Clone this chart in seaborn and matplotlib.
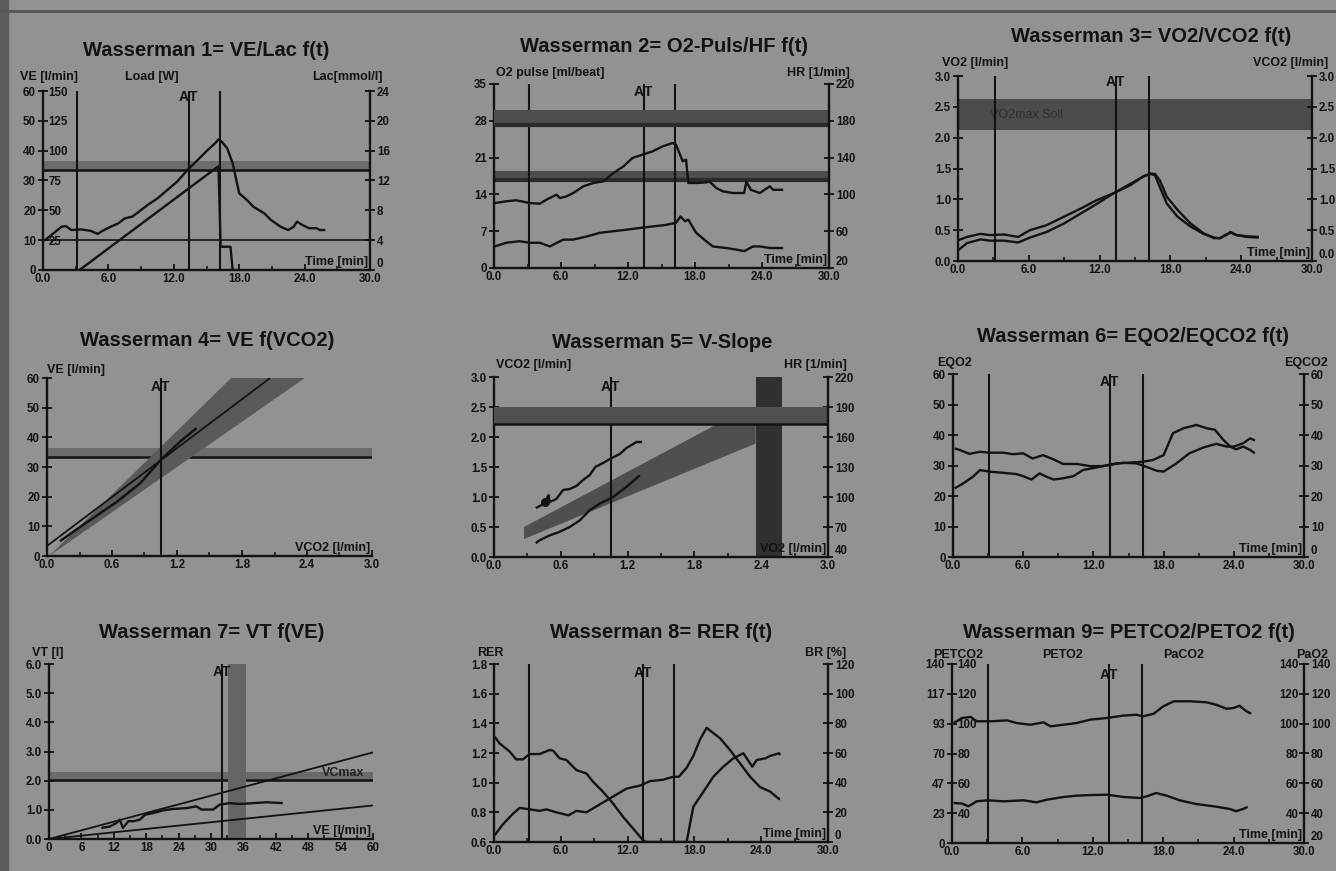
import matplotlib
matplotlib.use("Agg")
import matplotlib.pyplot as plt
import seaborn as sns
from matplotlib.patches import Rectangle
from matplotlib.lines import Line2D
import numpy as np

# --- canvas ---
W, H = 1336, 871
BG = "#929292"
INK = "#121212"
TICK_FS = 8.3
LAB_FS = 9
TITLE_FS = 14.5
CURVE_LW = 1.7

# --- phase markers (start load, AT, end load) in minutes ---
phase_lines = [3.1, 13.4, 16.2]

# --- Wasserman 1: VE / Load / Lac vs time ---
w1_time = [0.1, 0.76, 1.7, 2.1, 2.6, 3.5, 4.4, 5.0, 5.6, 6.2, 6.9, 7.5, 8.2, 9.0, 9.6, 10.5,
           11.4, 12.3, 13.25, 14.2, 15.1, 15.8, 16.1, 16.4, 16.9, 17.4, 18.0, 18.7, 19.3,
           20.3, 20.9, 21.8, 22.5, 23.0, 23.3, 23.8, 24.4, 25.1, 25.4, 25.9]
w1_ve = [9.8, 11.7, 14.5, 14.7, 13.4, 13.6, 13.1, 12.1, 13.4, 14.5, 15.6, 17.3, 17.9, 20.1,
         21.8, 24.0, 26.8, 29.6, 33.5, 36.9, 40.2, 42.5, 43.8, 43.0, 40.8, 35.8, 25.7, 23.5,
         21.2, 19.0, 16.8, 14.5, 13.4, 14.5, 16.2, 15.1, 14.0, 14.0, 13.4, 13.4]
w1_load_time = [3.35, 16.1, 16.3, 17.2, 17.4]
w1_load_watt = [0, 87, 19.5, 19.5, 0]
w1_lac_threshold = 4.0
ve_target_band = [33.5, 36.5]

# --- Wasserman 2: O2 pulse / HR vs time ---
w2_hr_time = [0.06, 1.1, 2.0, 3.2, 4.1, 4.7, 5.6, 5.9, 6.5, 7.1, 8.0, 8.9, 9.8, 10.7, 11.6,
              12.4, 13.3, 14.2, 15.1, 16.0, 16.3, 16.6, 16.9, 17.2, 17.4, 18.1, 19.0, 19.3,
              19.9, 20.5, 21.4, 22.4, 22.6, 23.0, 23.8, 24.7, 25.0, 25.9]
w2_hr = [90.6, 92.5, 93.6, 90.6, 89.9, 94.3, 99.7, 96, 97.9, 101.5, 108.8, 112.4, 114.2, 123.3,
         130.5, 139.6, 143.2, 146.8, 152.2, 155.9, 154, 145, 136, 137.8, 112.4, 112.4, 113,
         114, 107, 103.3, 101.5, 101.5, 114, 105, 101.5, 108.8, 105, 105]
w2_o2_time = [0.06, 1.1, 2.3, 3.2, 4.1, 5.0, 6.2, 7.1, 8.3, 9.5, 10.7, 11.9, 13.0, 14.2, 15.4,
              16.3, 16.7, 17.1, 17.4, 18.1, 19.0, 19.6, 20.8, 21.7, 22.4, 23.2, 23.8, 24.7, 25.9]
w2_o2pulse = [4.1, 4.8, 5.1, 4.8, 4.8, 4.1, 5.4, 5.4, 6.0, 6.7, 7.0, 7.3, 7.6, 7.9, 8.2, 8.6,
              9.8, 8.9, 9.2, 6.7, 5.1, 4.1, 3.8, 3.5, 3.2, 4.1, 4.1, 3.8, 3.8]
w2_hr_band = [174, 192]
w2_o2_band = [16.5, 18.4]

# --- Wasserman 3: VO2 / VCO2 vs time ---
w3_time = [0.06, 0.76, 1.9, 2.7, 3.9, 5.1, 6.1, 7.5, 9.0, 10.4, 11.8, 13.2, 14.6, 15.7, 16.3,
           16.7, 17.1, 17.7, 18.6, 19.7, 20.8, 21.7, 22.2, 23.1, 23.6, 24.5, 25.5]
w3_vco2 = [0.34, 0.39, 0.44, 0.42, 0.43, 0.39, 0.50, 0.58, 0.72, 0.85, 0.99, 1.10, 1.23, 1.37,
           1.41, 1.39, 1.20, 0.93, 0.72, 0.56, 0.44, 0.38, 0.37, 0.47, 0.42, 0.40, 0.39]
w3_vo2 = [0.18, 0.29, 0.35, 0.33, 0.33, 0.30, 0.38, 0.47, 0.61, 0.77, 0.93, 1.10, 1.25, 1.37,
          1.42, 1.41, 1.31, 1.04, 0.83, 0.61, 0.45, 0.37, 0.37, 0.46, 0.42, 0.39, 0.38]
vo2max_band = [2.13, 2.62]

# --- Wasserman 4: VE vs VCO2 ---
w4_vco2 = [0.12, 0.31, 0.49, 0.65, 0.86, 1.05, 1.23, 1.38]
w4_ve = [5.0, 9.9, 14.4, 18.4, 24.5, 32.4, 38.6, 43.1]
w4_fit_vco2 = [0.0, 2.06]
w4_fit_ve = [3.4, 60.0]
w4_wedge_vco2 = [0.02, 1.70, 2.38]
w4_wedge_ve = [0.0, 60.0, 60.0]

# --- Wasserman 5: V-slope ---
w5_hr_vo2 = [0.375, 0.43, 0.46, 0.49, 0.50, 0.56, 0.62, 0.68, 0.74, 0.80, 0.86, 0.91, 0.98,
             1.04, 1.13, 1.19, 1.28, 1.33]
w5_hr = [89, 92, 95, 102, 95, 98, 107, 108, 111, 117, 122, 130, 134, 138, 143, 149, 155, 155]
w5_vo2 = [0.375, 0.41, 0.50, 0.59, 0.68, 0.77, 0.86, 0.95, 1.07, 1.19, 1.31]
w5_vco2 = [0.23, 0.28, 0.36, 0.42, 0.50, 0.61, 0.78, 0.89, 1.00, 1.17, 1.36]
w5_band_vo2 = [0.27, 0.27, 2.00, 2.35, 2.35]
w5_band_vco2 = [0.30, 0.50, 2.21, 2.21, 1.89]
w5_hr_band = [173, 190]
w5_vo2max_band = [2.35, 2.59]
at_vo2 = 1.05

# --- Wasserman 6: EQO2 / EQCO2 vs time ---
w6_eqo2_time = [0.14, 0.57, 1.4, 2.3, 3.1, 4.3, 5.1, 6.0, 6.8, 7.7, 8.6, 9.4, 10.6, 11.7, 12.8,
                14.0, 15.1, 16.3, 17.1, 18.0, 18.8, 19.7, 20.8, 21.7, 22.4, 23.1, 23.7, 24.2,
                24.8, 25.4, 25.8]
w6_eqo2 = [35.6, 35.1, 33.8, 34.5, 34.2, 34.2, 33.7, 34.0, 32.3, 33.4, 32.0, 30.5, 30.5, 29.8,
           29.8, 30.7, 30.9, 31.3, 31.8, 33.4, 40.6, 42.2, 43.3, 42.2, 41.7, 38.4, 36.2, 35.3,
           36.2, 35.1, 34.0]
w6_eqco2_time = [0.14, 0.86, 1.7, 2.3, 3.1, 4.3, 5.4, 6.0, 6.7, 7.4, 8.0, 8.6, 9.4, 10.3, 11.1,
                 12.3, 13.4, 14.5, 15.7, 16.5, 17.4, 18.0, 19.1, 20.2, 21.4, 22.5, 23.4, 24.0,
                 24.8, 25.4, 25.8]
w6_eqco2 = [22.5, 24.1, 26.3, 28.5, 28.0, 27.6, 27.2, 26.5, 25.4, 27.4, 26.3, 25.4, 25.8, 26.5,
            28.5, 29.4, 30.2, 30.9, 30.7, 29.6, 28.3, 28.0, 30.7, 34.0, 35.9, 37.1, 36.2, 36.2,
            37.3, 38.9, 38.2]

# --- Wasserman 7: VT vs VE ---
w7_ve = [9.7, 11.3, 12.5, 13.1, 13.7, 14.7, 15.6, 16.8, 17.8, 19.3, 21.1, 23.0, 25.5, 27.3,
         28.2, 30.4, 31.6, 33.5, 35.3, 37.8, 40.3, 43.3]
w7_vt = [0.38, 0.43, 0.55, 0.66, 0.38, 0.61, 0.61, 0.66, 0.83, 0.89, 0.98, 1.03, 1.06, 1.12,
         1.01, 1.01, 1.18, 1.23, 1.20, 1.23, 1.26, 1.23]
w7_iso_ve = [0, 60]
w7_iso_upper = [0, 2.97]
w7_iso_lower = [0, 1.15]
vcmax_band = [2.03, 2.30]
w7_ve_band = [33.2, 36.4]
at_ve = 32.1

# --- Wasserman 8: RER / BR vs time ---
w8_rer_time = [0.06, 0.8, 1.7, 2.3, 3.2, 4.1, 4.7, 5.6, 6.7, 7.4, 8.3, 9.2, 10.1, 11.0, 11.9,
               13.1, 14.0, 15.2, 16.1, 16.6, 17.3, 17.9, 18.5, 19.1, 19.6, 20.3, 21.2, 22.1,
               23.0, 23.9, 24.8, 25.6, 25.7]
w8_rer = [0.645, 0.72, 0.79, 0.83, 0.82, 0.81, 0.82, 0.80, 0.78, 0.81, 0.80, 0.84, 0.88, 0.92,
          0.96, 0.98, 1.01, 1.02, 1.04, 1.04, 1.10, 1.18, 1.29, 1.37, 1.34, 1.30, 1.22, 1.13,
          1.04, 0.97, 0.94, 0.89, 0.89]
w8_br_time = [0.06, 0.5, 1.4, 2.0, 2.6, 3.2, 4.1, 5.0, 5.3, 5.9, 6.5, 7.4, 8.3, 8.9, 9.8, 10.7,
              11.6, 12.5, 13.4, 13.7, 17.3, 17.9, 18.8, 19.7, 20.6, 21.5, 22.4, 23.2, 23.6,
              24.4, 24.8, 25.6, 25.7]
w8_br = [71, 66.5, 61, 55.7, 55.7, 59.3, 59.3, 62, 61.6, 56.4, 55.3, 48.5, 46.2, 40.6, 33.8,
         25.9, 16.9, 9.0, 1.1, 0, 0, 23.7, 33.8, 44, 50.8, 56.4, 59.8, 50.8, 55.3, 56.4, 58,
         59.8, 58.6]

# --- Wasserman 9: PETCO2 / PETO2 vs time ---
w9_peto2_time = [0.14, 0.85, 1.6, 2.1, 3.3, 4.7, 5.5, 6.7, 7.8, 8.4, 9.5, 10.6, 11.8, 13.2,
                 14.6, 15.7, 16.3, 17.2, 18.0, 18.9, 20.3, 21.7, 22.5, 23.4, 24.0, 24.5, 25.1,
                 25.5]
w9_peto2 = [100.4, 103.8, 104.5, 101.6, 101.6, 102.2, 100.4, 99.3, 100.9, 98.2, 99.3, 100.4,
            102.7, 103.8, 105.4, 106.0, 104.9, 106.7, 111.6, 115.0, 115.0, 114.3, 112.7, 110.0,
            110.5, 112.0, 108.3, 106.7]
w9_petco2_time = [0.14, 0.85, 1.4, 2.1, 3.0, 4.4, 6.1, 7.2, 8.1, 9.5, 10.6, 11.8, 13.2, 14.6,
                  16.0, 16.6, 17.4, 18.3, 19.4, 20.8, 22.3, 23.7, 24.2, 24.8, 25.2]
w9_petco2 = [31.3, 30.8, 28.7, 32.6, 33.4, 32.6, 33.4, 31.8, 33.9, 36.0, 37.0, 37.5, 37.8,
             36.0, 35.2, 36.5, 39.1, 37.0, 33.4, 30.5, 28.7, 26.6, 24.8, 26.6, 28.2]

time_ticks = [0, 6, 12, 18, 24, 30]
time_labels = ["0.0", "6.0", "12.0", "18.0", "24.0", "30.0"]
flow_ticks = [0, 0.6, 1.2, 1.8, 2.4, 3.0]
flow_labels = ["0.0", "0.6", "1.2", "1.8", "2.4", "3.0"]

# --- style ---
sns.set_style("ticks")
plt.rcParams["font.family"] = ["Liberation Sans", "DejaVu Sans"]
plt.rcParams.update({
    "font.weight": "bold",
    "text.color": INK,
    "axes.edgecolor": INK,
    "xtick.color": INK,
    "ytick.color": INK,
    "lines.solid_capstyle": "butt",
})

fig = plt.figure(figsize=(W / 100, H / 100), dpi=100, facecolor=BG)
fig.add_artist(Rectangle((0, 0), 8 / W, 1, transform=fig.transFigure, color="#5c5c5c", zorder=0))
fig.add_artist(Line2D([0, 1], [1 - 11 / H] * 2, transform=fig.transFigure, color="#555555", lw=2))


def ftext(x, y, s, size=LAB_FS, ha="left", **kw):
    fig.text(x / W, 1 - y / H, s, ha=ha, va="center", fontsize=size, color=INK,
             fontweight="bold", **kw)


def fmt(vals, pattern):
    return [pattern.format(v) for v in vals]


def panel(box, xlim, xticks, xlabels, ylim, yticks, ylabels):
    l, t, r, b = box
    ax = fig.add_axes([l / W, 1 - b / H, (r - l) / W, (b - t) / H])
    ax.set_facecolor("none")
    ax.set_xlim(xlim)
    ax.set_ylim(ylim)
    ax.spines[["top", "right"]].set_visible(False)
    ax.spines[["left", "bottom"]].set_linewidth(1.7)
    ax.set_xticks(xticks, xlabels)
    mids = [(a + c) / 2 for a, c in zip(xticks[:-1], xticks[1:])]
    ax.set_xticks(mids, minor=True)
    ax.set_yticks(yticks, ylabels)
    ax.tick_params(axis="x", which="major", direction="in", length=4, width=1.3,
                   pad=2.5, labelsize=TICK_FS)
    ax.tick_params(axis="x", which="minor", direction="in", length=3, width=1.1)
    ax.tick_params(axis="y", which="major", direction="inout", length=7, width=1.3,
                   pad=1.5, labelsize=TICK_FS)
    return ax


def right_axis(ax, ylim, yticks, ylabels):
    tw = ax.twinx()
    tw.set_facecolor("none")
    tw.set_ylim(ylim)
    tw.spines[["top", "bottom", "left"]].set_visible(False)
    tw.spines["right"].set_linewidth(1.7)
    tw.set_yticks(yticks, ylabels)
    tw.tick_params(axis="y", direction="inout", length=7, width=1.3, pad=1.5,
                   labelsize=TICK_FS)
    # lowest label sits just above the time axis, as on the printout
    tw.get_yticklabels()[0].set_verticalalignment("bottom")
    return tw


def inner_axis(ax, ylim, yticks, ylabels, at=0.0, side="right"):
    tw = ax.twinx()
    tw.set_facecolor("none")
    tw.set_ylim(ylim)
    tw.spines[["top", "bottom", "left", "right"]].set_visible(False)
    if side == "left":
        tw.spines["left"].set_position(("axes", at))
        tw.yaxis.tick_left()
    else:
        tw.spines["right"].set_position(("axes", at))
    tw.set_yticks(yticks, ylabels)
    tw.tick_params(axis="y", length=0, pad=4, labelsize=TICK_FS)
    return tw


def curve(ax, x, y, lw=CURVE_LW):
    sns.lineplot(x=x, y=y, ax=ax, color=INK, lw=lw, estimator=None, sort=False)
    ax.set_xlabel("")
    ax.set_ylabel("")


def phase(ax, xs, ypos=0.95):
    for x in xs:
        ax.axvline(x, color=INK, lw=1.5, zorder=3)
    at = xs[1] if len(xs) > 1 else xs[0]
    tr = ax.get_xaxis_transform()
    ax.text(at, ypos, "A", transform=tr, ha="right", va="center", fontsize=10,
            fontweight="bold")
    ax.text(at, ypos, "T", transform=tr, ha="left", va="center", fontsize=10,
            fontweight="bold")


def corner_label(ax, s):
    ax.text(0.995, 0.012, s, transform=ax.transAxes, ha="right", va="bottom",
            fontsize=LAB_FS, fontweight="bold", zorder=6)


def band_h(ax, lo, hi, color, edge=True):
    ax.axhspan(lo, hi, color=color, lw=0, zorder=1)
    if edge:
        ax.axhline(lo, color=INK, lw=1.8, zorder=2)


# ---------------- Wasserman 1 ----------------
ax1 = panel((43, 91, 370, 270), (0, 30), time_ticks, time_labels, (0, 60),
            list(range(0, 61, 10)), fmt(range(0, 61, 10), "{}"))
ld1 = inner_axis(ax1, (0, 150), list(range(25, 151, 25)), fmt(range(25, 151, 25), "{}"))
lac1 = right_axis(ax1, (0, 24), list(range(0, 25, 4)), fmt(range(0, 25, 4), "{}"))
band_h(ax1, ve_target_band[0], ve_target_band[1], "#6c6c6c")
lac1.axhline(w1_lac_threshold, color=INK, lw=1.2)
curve(ax1, w1_time, w1_ve)
curve(ld1, w1_load_time, w1_load_watt)
phase(ax1, phase_lines, 0.965)
corner_label(ax1, "Time [min]")
ftext(206, 51, "Wasserman 1= VE/Lac f(t)", TITLE_FS, "center")
ftext(20, 77, "VE [l/min]")
ftext(125, 77, "Load [W]")
ftext(383, 77, "Lac[mmol/l]", ha="right")

# ---------------- Wasserman 2 ----------------
ax2 = panel((494, 84, 829, 268), (0, 30), time_ticks, time_labels, (0, 35),
            list(range(0, 36, 7)), fmt(range(0, 36, 7), "{}"))
hr2 = right_axis(ax2, (20, 220), list(range(20, 221, 40)), fmt(range(20, 221, 40), "{}"))
hr2.axhspan(w2_hr_band[0], w2_hr_band[1], color="#4e4e4e", lw=0, zorder=1)
hr2.axhline(w2_hr_band[0] + 1.5, color="#2a2a2a", lw=3)
ax2.axhspan(w2_o2_band[0], w2_o2_band[1], color="#4e4e4e", lw=0, zorder=1)
ax2.axhline(w2_o2_band[0] + 0.3, color="#2a2a2a", lw=3)
curve(hr2, w2_hr_time, w2_hr)
curve(ax2, w2_o2_time, w2_o2pulse)
phase(ax2, phase_lines, 0.957)
corner_label(ax2, "Time [min]")
ftext(664, 46, "Wasserman 2= O2-Puls/HF f(t)", TITLE_FS, "center")
ftext(496, 73, "O2 pulse [ml/beat]")
ftext(850, 73, "HR [1/min]", ha="right")

# ---------------- Wasserman 3 ----------------
v_ticks = [0, 0.5, 1.0, 1.5, 2.0, 2.5, 3.0]
ax3 = panel((958, 76, 1312, 261), (0, 30), time_ticks, time_labels, (0, 3),
            v_ticks, fmt(v_ticks, "{:.1f}"))
vc3 = right_axis(ax3, (0, 3), v_ticks, fmt(v_ticks, "{:.1f}"))
ax3.axhspan(vo2max_band[0], vo2max_band[1], color="#4c4c4c", lw=0, zorder=1)
ax3.text(2.7, 2.37, "VO2max Soll", fontsize=9, fontweight="normal", color="#2e2e2e",
         va="center", zorder=2)
curve(ax3, w3_time, w3_vco2)
curve(ax3, w3_time, w3_vo2)
phase(ax3, phase_lines, 0.968)
corner_label(ax3, "Time [min]")
ftext(1151, 37, "Wasserman 3= VO2/VCO2 f(t)", TITLE_FS, "center")
ftext(942, 63, "VO2 [l/min]")
ftext(1328, 63, "VCO2 [l/min]", ha="right")

# ---------------- Wasserman 4 ----------------
ax4 = panel((47, 378, 372, 556), (0, 3), flow_ticks, flow_labels, (0, 60),
            list(range(0, 61, 10)), fmt(range(0, 61, 10), "{}"))
band_h(ax4, ve_target_band[0], ve_target_band[1], "#6c6c6c")
ax4.fill(w4_wedge_vco2, w4_wedge_ve, color="#5a5a5a", lw=0, zorder=2)
curve(ax4, w4_fit_vco2, w4_fit_ve, lw=1.3)
curve(ax4, w4_vco2, w4_ve, lw=1.8)
phase(ax4, [at_vo2], 0.95)
corner_label(ax4, "VCO2 [l/min]")
ftext(207, 340, "Wasserman 4= VE f(VCO2)", TITLE_FS, "center")
ftext(47, 370, "VE [l/min]")

# ---------------- Wasserman 5 ----------------
ax5 = panel((494, 377, 828, 557), (0, 3), flow_ticks, flow_labels, (0, 3),
            v_ticks, fmt(v_ticks, "{:.1f}"))
hr5 = right_axis(ax5, (40, 220), list(range(40, 221, 30)), fmt(range(40, 221, 30), "{}"))
hr5.axhspan(w5_hr_band[0], w5_hr_band[1], color="#505050", lw=0, zorder=1)
hr5.axhline(w5_hr_band[0], color=INK, lw=1.8)
ax5.fill(w5_band_vo2, w5_band_vco2, color="#4f4f4f", lw=0, zorder=1)
ax5.axvspan(w5_vo2max_band[0], w5_vo2max_band[1], color="#303030", lw=0, zorder=2)
curve(hr5, w5_hr_vo2, w5_hr)
curve(ax5, w5_vo2, w5_vco2)
hr5.scatter([w5_hr_vo2[2]], [w5_hr[2]], s=30, color=INK, zorder=5)
phase(ax5, [at_vo2], 0.944)
corner_label(ax5, "VO2 [l/min]")
ftext(662, 343, "Wasserman 5= V-Slope", TITLE_FS, "center")
ftext(496, 365, "VCO2 [l/min]")
ftext(847, 365, "HR [1/min]", ha="right")

# ---------------- Wasserman 6 ----------------
ax6 = panel((953, 374, 1304, 557), (0, 30), time_ticks, time_labels, (0, 60),
            list(range(0, 61, 10)), fmt(range(0, 61, 10), "{}"))
right_axis(ax6, (0, 60), list(range(0, 61, 10)), fmt(range(0, 61, 10), "{}"))
curve(ax6, w6_eqo2_time, w6_eqo2)
curve(ax6, w6_eqco2_time, w6_eqco2)
phase(ax6, phase_lines, 0.956)
corner_label(ax6, "Time [min]")
ftext(1133, 336, "Wasserman 6= EQO2/EQCO2 f(t)", TITLE_FS, "center")
ftext(937, 363, "EQO2")
ftext(1328, 363, "EQCO2", ha="right")

# ---------------- Wasserman 7 ----------------
vt_ticks = [0, 1, 2, 3, 4, 5, 6]
ax7 = panel((49, 664, 373, 839), (0, 60), list(range(0, 61, 6)),
            fmt(range(0, 61, 6), "{}"), (0, 6), vt_ticks, fmt(vt_ticks, "{:.1f}"))
band_h(ax7, vcmax_band[0], vcmax_band[1], "#6a6a6a")
ax7.text(58.5, 2.26, "VCmax", ha="right", va="center", fontsize=9, fontweight="bold",
         color="#222222", zorder=3)
ax7.axvspan(w7_ve_band[0], w7_ve_band[1], color="#656565", lw=0, zorder=2)
curve(ax7, w7_iso_ve, w7_iso_upper, lw=1.3)
curve(ax7, w7_iso_ve, w7_iso_lower, lw=1.3)
curve(ax7, w7_ve, w7_vt)
phase(ax7, [at_ve], 0.954)
corner_label(ax7, "VE [l/min]")
ftext(212, 632, "Wasserman 7= VT f(VE)", TITLE_FS, "center")
ftext(32, 653, "VT [l]")

# ---------------- Wasserman 8 ----------------
rer_ticks = [0.6, 0.8, 1.0, 1.2, 1.4, 1.6, 1.8]
ax8 = panel((494, 664, 828, 842), (0, 30), time_ticks, time_labels, (0.6, 1.8),
            rer_ticks, fmt(rer_ticks, "{:.1f}"))
br8 = right_axis(ax8, (0, 120), list(range(0, 121, 20)), fmt(range(0, 121, 20), "{}"))
curve(ax8, w8_rer_time, w8_rer)
curve(br8, w8_br_time, w8_br)
phase(ax8, phase_lines, 0.95)
corner_label(ax8, "Time [min]")
ftext(661, 632, "Wasserman 8= RER f(t)", TITLE_FS, "center")
ftext(477, 653, "RER")
ftext(846, 653, "BR [%]", ha="right")

# ---------------- Wasserman 9 ----------------
pco2_ticks = list(np.linspace(0, 140, 7))
ax9 = panel((952, 664, 1304, 843), (0, 30), time_ticks, time_labels, (0, 140),
            pco2_ticks, fmt(pco2_ticks, "{:.0f}"))
po2_9 = inner_axis(ax9, (20, 140), list(range(40, 141, 20)), fmt(range(40, 141, 20), "{}"))
right_axis(ax9, (20, 140), list(range(20, 141, 20)), fmt(range(20, 141, 20), "{}"))
inner_axis(ax9, (20, 140), list(range(40, 141, 20)), fmt(range(40, 141, 20), "{}"),
           at=1.0, side="left")
curve(po2_9, w9_peto2_time, w9_peto2)
curve(ax9, w9_petco2_time, w9_petco2)
phase(ax9, phase_lines, 0.94)
corner_label(ax9, "Time [min]")
ftext(1129, 632, "Wasserman 9= PETCO2/PETO2 f(t)", TITLE_FS, "center")
ftext(933, 655, "PETCO2")
ftext(1042, 655, "PETO2")
ftext(1163, 655, "PaCO2")
ftext(1328, 655, "PaO2", ha="right")

fig.savefig("out.png", dpi=100, facecolor=fig.get_facecolor())
